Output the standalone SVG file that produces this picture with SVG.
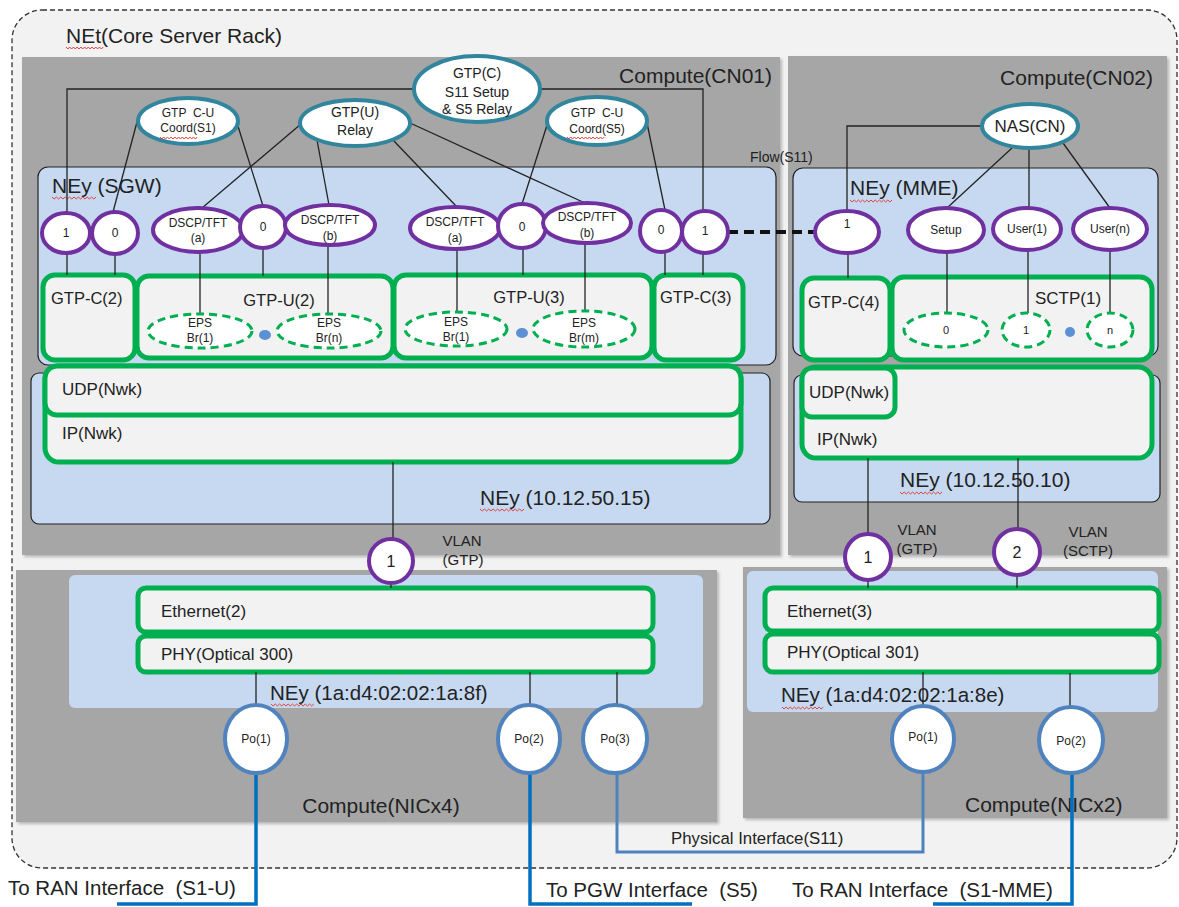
<svg xmlns="http://www.w3.org/2000/svg" xmlns:xlink="http://www.w3.org/1999/xlink" width="1179" height="907" viewBox="0 0 1179 907">
<defs>
<style>
.t{font-family:"Liberation Sans",Arial,sans-serif;fill:#222}
.rack{fill:#f2f2f2;stroke:#333;stroke-width:1.3;stroke-dasharray:5 3}
.comp{fill:#a6a6a6;filter:url(#sh)}
.ney{fill:#c6d9f1;stroke:#222;stroke-width:1.2}
.nic{fill:#c6d9f1}
.grn{fill:#f2f2f2;stroke:#00b050;stroke-width:5}
.teal{fill:#fff;stroke:#31859c;stroke-width:4}
.pur{fill:#fff;stroke:#7030a0;stroke-width:4}
.eps{fill:#fff;stroke:#00b050;stroke-width:3;stroke-dasharray:8 5}
.po{fill:#fff;stroke:#5082be;stroke-width:4}
.dot{fill:#5b8fd6}
.ln{stroke:#222;stroke-width:1.3;fill:none}
.dash{stroke:#111;stroke-width:4;stroke-dasharray:10 6;fill:none}
.ext{stroke:#0070c0;stroke-width:3.5;fill:none}
.phy{stroke:#4f81bd;stroke-width:3;fill:none}
.sq{stroke:#e0403a;stroke-width:1;fill:none}
.s12{font-size:12px}
.s14{font-size:14px}
.s17{font-size:17px}
.s21{font-size:21px}
.m{text-anchor:middle}
</style>
<filter id="sh" x="-5%" y="-5%" width="110%" height="110%">
<feDropShadow dx="2" dy="2" stdDeviation="1.5" flood-color="#000" flood-opacity="0.25"/>
</filter>
<path id="zz" class="sq" vector-effect="non-scaling-stroke" d="M0 0 l2 2 l2 -2 l2 2 l2 -2 l2 2 l2 -2 l2 2 l2 -2 l2 2 l2 -2 l2 2 l2 -2 l2 2 l2 -2 l2 2 l2 -2 l2 2 l2 -2 l2 2 l2 -2"/>
</defs>

<g id="rack">
<rect class="rack" x="12" y="10" width="1165" height="858" rx="30"/>
<text class="t s21" x="66" y="43">NEt(Core Server Rack)</text>
<use xlink:href="#zz" transform="translate(66,47) scale(0.93,1)"/>
</g>

<g id="compute-cn01">
<rect class="comp" x="22" y="57" width="758" height="498"/>
<text class="t s21" x="772" y="83" text-anchor="end">Compute(CN01)</text>
</g>
<g id="compute-cn02">
<rect class="comp" x="788" y="56" width="379" height="499"/>
<text class="t s21" x="1153" y="85" text-anchor="end">Compute(CN02)</text>
</g>
<g id="compute-nicx4">
<rect class="comp" x="16" y="570" width="701" height="252"/>
<text class="t s21 m" x="381" y="813">Compute(NICx4)</text>
</g>
<g id="compute-nicx2">
<rect class="comp" x="743" y="567" width="424" height="251"/>
<text class="t s21" x="965" y="812">Compute(NICx2)</text>
</g>

<g id="ney-sgw">
<rect class="ney" x="38" y="167" width="738" height="198" rx="10"/>
<text class="t s21" x="52" y="193">NEy (SGW)</text>
<use xlink:href="#zz" transform="translate(52,197) scale(1.1,1)"/>
</g>
<g id="ney-10-12-50-15">
<rect class="ney" x="31" y="373" width="739" height="151" rx="8"/>
<text class="t s21" x="480" y="505">NEy (10.12.50.15)</text>
<use xlink:href="#zz" transform="translate(480,509) scale(1.1,1)"/>
</g>
<g id="ney-mme">
<rect class="ney" x="793" y="168" width="365" height="188" rx="10"/>
<text class="t s21" x="850" y="195">NEy (MME)</text>
<use xlink:href="#zz" transform="translate(850,200) scale(1.05,1)"/>
</g>
<g id="ney-10-12-50-10">
<rect class="ney" x="794" y="375" width="366" height="127" rx="8"/>
<text class="t s21" x="900" y="487">NEy (10.12.50.10)</text>
<use xlink:href="#zz" transform="translate(900,492) scale(1.05,1)"/>
</g>
<g id="ney-nic-8f">
<rect class="nic" x="69" y="575" width="634" height="133" rx="6"/>
<text class="t" style="font-size:20.5px" x="270" y="700">NEy (1a:d4:02:02:1a:8f)</text>
<use xlink:href="#zz" transform="translate(271,704) scale(1.07,1)"/>
</g>
<g id="ney-nic-8e">
<rect class="nic" x="747" y="571" width="411" height="141" rx="6"/>
<text class="t" style="font-size:20.5px" x="781" y="702">NEy (1a:d4:02:02:1a:8e)</text>
<use xlink:href="#zz" transform="translate(782,707) scale(1.03,1)"/>
</g>

<g id="gtp-c2">
<rect class="grn" x="43" y="275" width="92" height="85" rx="12"/>
<text class="t" style="font-size:16.5px" x="51" y="304">GTP-C(2)</text>
</g>
<g id="gtp-u2">
<rect class="grn" x="137" y="276" width="256" height="82" rx="12"/>
<text class="t m" style="font-size:16.5px" x="279" y="306">GTP-U(2)</text>
</g>
<g id="gtp-u3">
<rect class="grn" x="394" y="275" width="258" height="83" rx="12"/>
<text class="t m" style="font-size:16.5px" x="529" y="303">GTP-U(3)</text>
</g>
<g id="gtp-c3">
<rect class="grn" x="654" y="275" width="89" height="85" rx="12"/>
<text class="t" style="font-size:16.5px" x="660" y="303">GTP-C(3)</text>
</g>
<g id="ip-nwk-sgw">
<rect class="grn" x="45" y="366" width="696" height="96" rx="14"/>
<text class="t s17" x="62" y="439">IP(Nwk)</text>
</g>
<g id="udp-nwk-sgw">
<rect class="grn" x="45" y="366" width="696" height="49" rx="12"/>
<text class="t s17" x="62" y="395">UDP(Nwk)</text>
</g>
<g id="gtp-c4">
<rect class="grn" x="802" y="278" width="88" height="82" rx="12"/>
<text class="t" style="font-size:16.5px" x="808" y="308">GTP-C(4)</text>
</g>
<g id="sctp1">
<rect class="grn" x="892" y="277" width="260" height="83" rx="12"/>
<text class="t m s17" x="1068" y="304">SCTP(1)</text>
</g>
<g id="ip-nwk-mme">
<rect class="grn" x="802" y="367" width="350" height="91" rx="14"/>
<text class="t s17" x="817" y="445">IP(Nwk)</text>
</g>
<g id="udp-nwk-mme">
<rect class="grn" x="802" y="368" width="93" height="49" rx="10"/>
<text class="t s17" x="809" y="398">UDP(Nwk)</text>
</g>
<g id="ethernet2">
<rect class="grn" x="138" y="588" width="515" height="44" rx="8"/>
<text class="t s17" x="161" y="617">Ethernet(2)</text>
</g>
<g id="phy300">
<rect class="grn" x="138" y="636" width="515" height="36" rx="8"/>
<text class="t s17" x="161" y="660">PHY(Optical 300)</text>
</g>
<g id="ethernet3">
<rect class="grn" x="765" y="588" width="394" height="43" rx="8"/>
<text class="t s17" x="787" y="617">Ethernet(3)</text>
</g>
<g id="phy301">
<rect class="grn" x="765" y="634" width="394" height="38" rx="8"/>
<text class="t s17" x="787" y="658">PHY(Optical 301)</text>
</g>

<g id="connectors">
<path class="ln" d="M415 89 H67 V213"/>
<path class="ln" d="M540 89 H703 V211"/>
<path class="ln" d="M137 122 L113 212"/>
<path class="ln" d="M237 123 L263 206"/>
<path class="ln" d="M301 124 L202 208"/>
<path class="ln" d="M317 140 L329 205"/>
<path class="ln" d="M393 140 L457 207"/>
<path class="ln" d="M410 123 L585 203"/>
<path class="ln" d="M548 122 L522 204"/>
<path class="ln" d="M647 123 L665 210"/>
<path class="ln" d="M982 126 H847 V211"/>
<path class="ln" d="M1012 148 L947 208"/>
<path class="ln" d="M1029 149 V208"/>
<path class="ln" d="M1063 143 L1110 208"/>
<path class="ln" d="M67 253 V275"/>
<path class="ln" d="M115 254 V275"/>
<path class="ln" d="M200 252 V314"/>
<path class="ln" d="M263 248 V276"/>
<path class="ln" d="M328 245 V314"/>
<path class="ln" d="M457 249 V312"/>
<path class="ln" d="M523 248 V275"/>
<path class="ln" d="M585 243 V311"/>
<path class="ln" d="M665 252 V275"/>
<path class="ln" d="M703 253 V275"/>
<path class="ln" d="M848 253 V278"/>
<path class="ln" d="M947 252 V313"/>
<path class="ln" d="M1028 250 V313"/>
<path class="ln" d="M1110 250 V313"/>
<path class="dash" d="M728 232 H815"/>
<path class="ln" d="M393 462 V540"/>
<path class="ln" d="M391 582 V588"/>
<path class="ln" d="M868 458 V535"/>
<path class="ln" d="M868 580 V588"/>
<path class="ln" d="M1018 458 V530"/>
<path class="ln" d="M1017 575 V588"/>
<path class="ln" d="M256 672 V705"/>
<path class="ln" d="M530 672 V705"/>
<path class="ln" d="M617 672 V705"/>
<path class="ln" d="M923 672 V706"/>
<path class="ln" d="M1070 673 V707"/>
<path class="ext" d="M256 773 V904 H117"/>
<path class="ext" d="M530 773 V904 H692"/>
<path class="ext" d="M1072 773 V904 H933"/>
<path class="phy" d="M617 773 V852 H923 V772"/>
<text class="t s14" x="750" y="162">Flow(S11)</text>
<text class="t" style="font-size:16.8px" x="671" y="844">Physical Interface(S11)</text>
<text class="t m" style="font-size:15px" x="462" y="546">VLAN</text>
<text class="t m" style="font-size:15px" x="463" y="565">(GTP)</text>
<text class="t m" style="font-size:15px" x="917" y="535">VLAN</text>
<text class="t m" style="font-size:15px" x="917" y="554">(GTP)</text>
<text class="t m" style="font-size:15px" x="1088" y="537">VLAN</text>
<text class="t m" style="font-size:15px" x="1088" y="556">(SCTP)</text>
<text class="t" style="font-size:20.5px" x="8" y="895" xml:space="preserve">To RAN Interface  (S1-U)</text>
<text class="t" style="font-size:20.5px" x="546" y="897" xml:space="preserve">To PGW Interface  (S5)</text>
<text class="t" style="font-size:20.5px" x="792" y="897" xml:space="preserve">To RAN Interface  (S1-MME)</text>
</g>

<g id="gtpc-relay">
<ellipse class="teal" cx="477" cy="89" rx="63" ry="33"/>
<text class="t m s14" x="477" y="78">GTP(C)</text>
<text class="t m s14" x="477" y="97">S11 Setup</text>
<text class="t m s14" x="477" y="114">&amp; S5 Relay</text>
</g>
<g id="gtp-cu-coord-s1">
<ellipse class="teal" cx="188" cy="121" rx="50" ry="23"/>
<text class="t m s12" x="188" y="117" xml:space="preserve">GTP  C-U</text>
<text class="t m s12" x="188" y="132">Coord(S1)</text>
<use xlink:href="#zz" transform="translate(160,137) scale(0.93,1)"/>
</g>
<g id="gtpu-relay">
<ellipse class="teal" cx="355" cy="123" rx="55" ry="23"/>
<text class="t m s14" x="355" y="117">GTP(U)</text>
<text class="t m s14" x="355" y="135">Relay</text>
</g>
<g id="gtp-cu-coord-s5">
<ellipse class="teal" cx="597" cy="121" rx="50" ry="24"/>
<text class="t m s12" x="597" y="117" xml:space="preserve">GTP  C-U</text>
<text class="t m s12" x="597" y="133">Coord(S5)</text>
<use xlink:href="#zz" transform="translate(567,137) scale(0.93,1)"/>
</g>
<g id="nas-cn">
<ellipse class="teal" cx="1030" cy="126" rx="48" ry="22"/>
<text class="t m s17" x="1030" y="132">NAS(CN)</text>
</g>

<g id="sgw-c1">
<ellipse class="pur" cx="66" cy="233" rx="24" ry="20"/>
<text class="t m s12" x="66" y="237">1</text>
</g>
<g id="sgw-c0">
<ellipse class="pur" cx="115" cy="233" rx="23" ry="21"/>
<text class="t m s12" x="115" y="237">0</text>
</g>
<g id="dscp-a2">
<ellipse class="pur" cx="198" cy="230" rx="45" ry="22"/>
<text class="t m s12" x="198" y="227">DSCP/TFT</text>
<text class="t m s12" x="198" y="242">(a)</text>
</g>
<g id="sgw-u2-0">
<ellipse class="pur" cx="263" cy="227" rx="23" ry="21"/>
<text class="t m s12" x="263" y="231">0</text>
</g>
<g id="dscp-b2">
<ellipse class="pur" cx="330" cy="225" rx="45" ry="20"/>
<text class="t m s12" x="330" y="224">DSCP/TFT</text>
<text class="t m s12" x="330" y="240">(b)</text>
</g>
<g id="dscp-a3">
<ellipse class="pur" cx="455" cy="228" rx="45" ry="21"/>
<text class="t m s12" x="455" y="226">DSCP/TFT</text>
<text class="t m s12" x="455" y="242">(a)</text>
</g>
<g id="sgw-u3-0">
<ellipse class="pur" cx="522" cy="226" rx="24" ry="22"/>
<text class="t m s12" x="522" y="231">0</text>
</g>
<g id="dscp-b3">
<ellipse class="pur" cx="587" cy="223" rx="44" ry="20"/>
<text class="t m s12" x="587" y="221">DSCP/TFT</text>
<text class="t m s12" x="587" y="237">(b)</text>
</g>
<g id="sgw-c3-0">
<ellipse class="pur" cx="661" cy="231" rx="21" ry="21"/>
<text class="t m s12" x="661" y="234">0</text>
</g>
<g id="sgw-c3-1">
<ellipse class="pur" cx="705" cy="232" rx="23" ry="21"/>
<text class="t m s12" x="705" y="235">1</text>
</g>
<g id="mme-c1">
<ellipse class="pur" cx="847" cy="232" rx="32" ry="21"/>
<text class="t m s12" x="847" y="228">1</text>
</g>
<g id="mme-setup">
<ellipse class="pur" cx="946" cy="230" rx="38" ry="22"/>
<text class="t m s12" x="946" y="234">Setup</text>
</g>
<g id="mme-user1">
<ellipse class="pur" cx="1027" cy="229" rx="34" ry="21"/>
<text class="t m s12" x="1027" y="233">User(1)</text>
</g>
<g id="mme-usern">
<ellipse class="pur" cx="1110" cy="229" rx="37" ry="21"/>
<text class="t m s12" x="1110" y="233">User(n)</text>
</g>

<g id="eps-u2-1">
<ellipse class="eps" cx="200" cy="331" rx="52" ry="17"/>
<text class="t m s12" x="200" y="327">EPS</text>
<text class="t m s12" x="200" y="342">Br(1)</text>
</g>
<ellipse id="dot-u2" class="dot" cx="265" cy="335" rx="6" ry="5"/>
<g id="eps-u2-n">
<ellipse class="eps" cx="329" cy="331" rx="52" ry="17"/>
<text class="t m s12" x="329" y="327">EPS</text>
<text class="t m s12" x="329" y="342">Br(n)</text>
</g>
<g id="eps-u3-1">
<ellipse class="eps" cx="456" cy="329" rx="51" ry="17"/>
<text class="t m s12" x="456" y="326">EPS</text>
<text class="t m s12" x="456" y="341">Br(1)</text>
</g>
<ellipse id="dot-u3" class="dot" cx="522" cy="333" rx="6" ry="5"/>
<g id="eps-u3-m">
<ellipse class="eps" cx="584" cy="329" rx="51" ry="18"/>
<text class="t m s12" x="584" y="327">EPS</text>
<text class="t m s12" x="584" y="342">Br(m)</text>
</g>
<g id="sctp-0">
<ellipse class="eps" cx="946" cy="330" rx="42" ry="17"/>
<text class="t m" style="font-size:11px" x="946" y="334">0</text>
</g>
<g id="sctp-1">
<ellipse class="eps" cx="1026" cy="330" rx="24" ry="17"/>
<text class="t m" style="font-size:11px" x="1026" y="334">1</text>
</g>
<ellipse id="dot-sctp" class="dot" cx="1070" cy="332" rx="5" ry="5"/>
<g id="sctp-n">
<ellipse class="eps" cx="1110" cy="330" rx="23" ry="17"/>
<text class="t m" style="font-size:11px" x="1110" y="334">n</text>
</g>

<g id="vlan-sgw-1">
<circle class="pur" cx="391" cy="561" r="22"/>
<text class="t m" style="font-size:16px" x="391" y="567">1</text>
</g>
<g id="vlan-mme-1">
<circle class="pur" cx="868" cy="557" r="23"/>
<text class="t m" style="font-size:16px" x="868" y="563">1</text>
</g>
<g id="vlan-mme-2">
<circle class="pur" cx="1017" cy="552" r="23"/>
<text class="t m" style="font-size:16px" x="1017" y="558">2</text>
</g>

<g id="po1-left">
<ellipse class="po" cx="256" cy="739" rx="31" ry="34"/>
<text class="t m s12" x="256" y="743">Po(1)</text>
</g>
<g id="po2-left">
<ellipse class="po" cx="529" cy="739" rx="31" ry="34"/>
<text class="t m s12" x="529" y="743">Po(2)</text>
</g>
<g id="po3-left">
<ellipse class="po" cx="615" cy="739" rx="32" ry="34"/>
<text class="t m s12" x="615" y="743">Po(3)</text>
</g>
<g id="po1-right">
<ellipse class="po" cx="923" cy="739" rx="31" ry="33"/>
<text class="t m s12" x="923" y="741">Po(1)</text>
</g>
<g id="po2-right">
<ellipse class="po" cx="1071" cy="740" rx="32" ry="33"/>
<text class="t m s12" x="1071" y="745">Po(2)</text>
</g>
</svg>
